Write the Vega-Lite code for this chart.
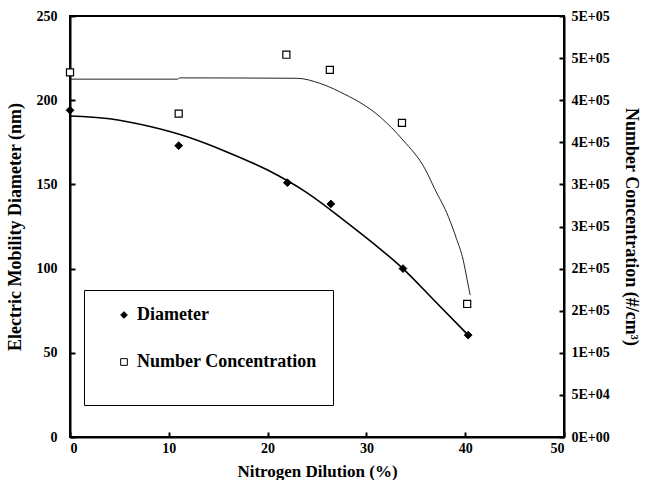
{
  "$schema": "https://vega.github.io/schema/vega-lite/v6.json",
  "width": 494,
  "height": 421,
  "autosize": {"type": "none"},
  "padding": {"left": 70, "top": 16, "right": 83, "bottom": 43},
  "background": "white",
  "datasets": {
    "diam": [
      {"x": 0, "d": 194, "series": "Diameter"},
      {"x": 11, "d": 173, "series": "Diameter"},
      {"x": 22, "d": 151, "series": "Diameter"},
      {"x": 26.4, "d": 138.4, "series": "Diameter"},
      {"x": 33.7, "d": 100, "series": "Diameter"},
      {"x": 40.3, "d": 60.5, "series": "Diameter"}
    ],
    "conc": [
      {"x": 0, "c": 433000, "series": "Number Concentration"},
      {"x": 11, "c": 384000, "series": "Number Concentration"},
      {"x": 21.9, "c": 454000, "series": "Number Concentration"},
      {"x": 26.3, "c": 436000, "series": "Number Concentration"},
      {"x": 33.6, "c": 373000, "series": "Number Concentration"},
      {"x": 40.2, "c": 158000, "series": "Number Concentration"}
    ],
    "diamFit": [
      {"x": 0, "d": 190.6},
      {"x": 4, "d": 189},
      {"x": 8, "d": 184.5},
      {"x": 12, "d": 178},
      {"x": 16, "d": 169},
      {"x": 20, "d": 158.5},
      {"x": 24, "d": 145},
      {"x": 28, "d": 127.5},
      {"x": 30.7, "d": 115},
      {"x": 33.7, "d": 100},
      {"x": 36.8, "d": 81.5},
      {"x": 40.3, "d": 60.5}
    ],
    "concFit": [
      {"x": 0, "c": 425000},
      {"x": 10.9, "c": 425000},
      {"x": 11.1, "c": 426500},
      {"x": 23, "c": 426000},
      {"x": 25.3, "c": 420000},
      {"x": 27.3, "c": 410000},
      {"x": 31.4, "c": 380000},
      {"x": 33.7, "c": 352700},
      {"x": 36, "c": 317000},
      {"x": 36.9, "c": 295000},
      {"x": 38.3, "c": 261600},
      {"x": 39.1, "c": 236000},
      {"x": 39.8, "c": 210000},
      {"x": 40.2, "c": 186500},
      {"x": 40.5, "c": 168600}
    ]
  },
  "config": {
    "font": "Liberation Serif",
    "view": {"stroke": "black", "strokeWidth": 2},
    "axis": {
      "grid": false,
      "domainColor": "black",
      "domainWidth": 2,
      "tickColor": "black",
      "tickWidth": 2,
      "tickSize": -5,
      "labelFont": "Liberation Serif",
      "labelFontWeight": "bold",
      "labelFontSize": 14,
      "labelColor": "black",
      "titleFont": "Liberation Serif",
      "titleFontWeight": "bold",
      "titleFontSize": 18,
      "titleColor": "black"
    },
    "legend": {
      "strokeColor": "black",
      "strokeWidth": 1,
      "fillColor": "white",
      "padding": 16,
      "symbolOffset": 15,
      "labelFont": "Liberation Serif",
      "labelFontWeight": "bold",
      "labelFontSize": 18,
      "labelColor": "black",
      "labelOffset": 4,
      "labelLimit": 400,
      "symbolSize": 45,
      "symbolStrokeWidth": 1,
      "rowPadding": 29,
      "titleOrient": "bottom",
      "titleFontSize": 10,
      "titlePadding": 8
    }
  },
  "encoding": {
    "x": {
      "field": "x",
      "type": "quantitative",
      "scale": {"domain": [0, 50], "nice": false, "zero": false},
      "axis": {
        "values": [0, 10, 20, 30, 40, 50],
        "title": "Nitrogen Dilution (%)",
        "titleFontSize": 17,
        "labelPadding": 9,
        "titlePadding": 8
      }
    }
  },
  "layer": [
    {
      "encoding": {
        "y": {
          "field": "d",
          "type": "quantitative",
          "scale": {"domain": [0, 250], "nice": false},
          "axis": {
            "orient": "left",
            "values": [0, 50, 100, 150, 200, 250],
            "title": "Electric Mobility Diameter (nm)",
            "labelPadding": 18,
            "titlePadding": 12
          }
        }
      },
      "layer": [
        {
          "data": {"name": "diamFit"},
          "mark": {"type": "line", "color": "black", "strokeWidth": 1.6, "interpolate": "monotone"}
        },
        {
          "data": {"name": "diam"},
          "mark": {"type": "point", "filled": true, "size": 60, "opacity": 1, "strokeWidth": 1},
          "encoding": {
            "shape": {
              "field": "series",
              "type": "nominal",
              "scale": {"domain": ["Diameter", "Number Concentration"], "range": ["diamond", "square"]},
              "legend": {"orient": "none", "legendX": 14, "legendY": 274, "title": " "}
            },
            "fill": {
              "field": "series",
              "type": "nominal",
              "scale": {"domain": ["Diameter", "Number Concentration"], "range": ["black", "white"]},
              "legend": {"orient": "none", "legendX": 14, "legendY": 274, "title": " "}
            },
            "stroke": {
              "field": "series",
              "type": "nominal",
              "scale": {"domain": ["Diameter", "Number Concentration"], "range": ["black", "black"]},
              "legend": {"orient": "none", "legendX": 14, "legendY": 274, "title": " "}
            }
          }
        }
      ]
    },
    {
      "encoding": {
        "y": {
          "field": "c",
          "type": "quantitative",
          "scale": {"domain": [0, 500000], "nice": false},
          "axis": {
            "orient": "right",
            "values": [0, 50000, 100000, 150000, 200000, 250000, 300000, 350000, 400000, 450000, 500000],
            "labelExpr": "replace(format(datum.value, '.0e'), 'e+', 'E+0')",
            "title": "Number Concentration (#/cm³)",
            "labelPadding": 12,
            "titlePadding": 12
          }
        }
      },
      "layer": [
        {
          "data": {"name": "concFit"},
          "mark": {"type": "line", "color": "#222222", "strokeWidth": 1, "interpolate": "monotone"}
        },
        {
          "data": {"name": "conc"},
          "mark": {"type": "point", "filled": true, "size": 50, "opacity": 1, "strokeWidth": 1.2},
          "encoding": {
            "shape": {
              "field": "series",
              "type": "nominal",
              "scale": {"domain": ["Diameter", "Number Concentration"], "range": ["diamond", "square"]},
              "legend": {"orient": "none", "legendX": 14, "legendY": 274, "title": " "}
            },
            "fill": {
              "field": "series",
              "type": "nominal",
              "scale": {"domain": ["Diameter", "Number Concentration"], "range": ["black", "white"]},
              "legend": {"orient": "none", "legendX": 14, "legendY": 274, "title": " "}
            },
            "stroke": {
              "field": "series",
              "type": "nominal",
              "scale": {"domain": ["Diameter", "Number Concentration"], "range": ["black", "black"]},
              "legend": {"orient": "none", "legendX": 14, "legendY": 274, "title": " "}
            }
          }
        }
      ]
    }
  ],
  "resolve": {"scale": {"y": "independent"}}
}
